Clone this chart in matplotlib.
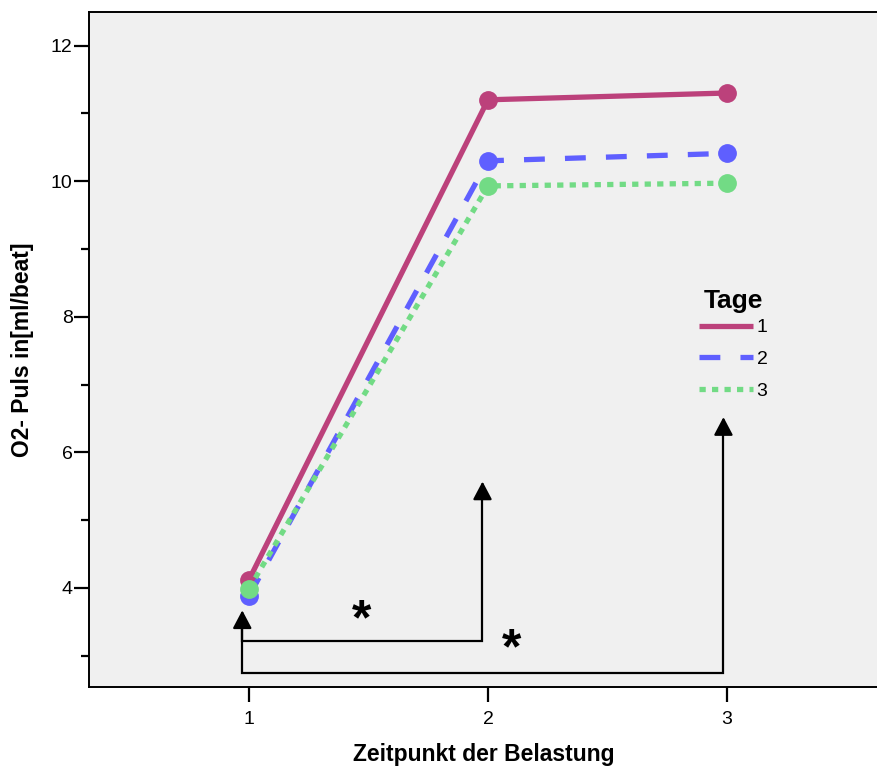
import matplotlib
matplotlib.use("Agg")
import matplotlib.pyplot as plt
from matplotlib.lines import Line2D

plt.rcParams["font.family"] = ["Liberation Sans", "DejaVu Sans"]
plt.rcParams["lines.scale_dashes"] = False

# measurement times and O2 pulse per day
zeitpunkt = [1, 2, 3]
tage = ["1", "2", "3"]
puls_tag1 = [4.12, 11.20, 11.30]
puls_tag2 = [3.88, 10.30, 10.41]
puls_tag3 = [3.99, 9.93, 9.97]

colors = ["#BC417B", "#5F5FFF", "#72DB85"]
dashes = [(None, None), (15.0, 14.5), (4.5, 4.5)]

# significance brackets (x start, x end, y of bar, arrow tip y)
brackets = [(0.972, 1.977, 3.22, 5.57), (0.972, 2.985, 2.74, 6.52)]
arrow_tip_start = 3.67
stars = [(1.47, 3.65), (2.10, 3.22)]

fig = plt.figure(figsize=(8.77, 7.71), dpi=100)
ax = fig.add_axes([0.1018, 0.109, 0.9, 0.875])
ax.set_facecolor("#F0F0F0")

series = [puls_tag1, puls_tag2, puls_tag3]
handles = []
for vals, c, d, lab in zip(series, colors, dashes, tage):
    ln, = ax.plot(zeitpunkt, vals, color=c, lw=3.8, marker="o", ms=12.5,
                  solid_capstyle="butt", dash_capstyle="butt")
    if d[0] is not None:
        ln.set_dashes(d)
    h = Line2D([], [], color=c, lw=3.8, solid_capstyle="butt", dash_capstyle="butt")
    if d[0] is not None:
        h.set_dashes(d)
    handles.append(h)

arrow_style = "-|>,head_length=1.1,head_width=0.58"

# brackets with arrows
for x0, x1, yb, ytip in brackets:
    ax.plot([x0, x0, x1, x1], [arrow_tip_start - 0.2, yb, yb, ytip - 0.2],
            color="black", lw=1.6, solid_joinstyle="miter")
    ax.annotate("", xy=(x1, ytip), xytext=(x1, ytip - 0.25),
                arrowprops=dict(arrowstyle=arrow_style, color="black", lw=1.6,
                                shrinkA=0, shrinkB=0))
ax.annotate("", xy=(brackets[0][0], arrow_tip_start),
            xytext=(brackets[0][0], arrow_tip_start - 0.25),
            arrowprops=dict(arrowstyle=arrow_style, color="black", lw=1.6,
                            shrinkA=0, shrinkB=0))
for sx, sy in stars:
    ax.annotate("*", xy=(sx, sy), xytext=(0, -16), textcoords="offset points",
                fontsize=36, fontweight="bold", ha="center", va="baseline")

ax.set_xlim(0.332, 3.634)
ax.set_ylim(2.54, 12.49)
ax.set_xticks(zeitpunkt)
ax.set_yticks([4, 6, 8, 10, 12])
ax.set_yticks([3, 5, 7, 9, 11], minor=True)
ax.tick_params(axis="both", which="major", length=11, width=1.6, labelsize=14)
ax.tick_params(axis="both", which="minor", length=6, width=1.6)
ax.tick_params(axis="y", which="major", pad=1)
ax.tick_params(axis="x", which="major", pad=6)
for s in ["left", "bottom", "top"]:
    ax.spines[s].set_linewidth(1.4)
ax.spines["right"].set_visible(False)

ax.set_xlabel("Zeitpunkt der Belastung", fontsize=16.5, fontweight="bold", labelpad=11)
ax.set_ylabel("O2- Puls in[ml/beat]", fontsize=16.5, fontweight="bold", labelpad=12)

leg = ax.legend(handles, tage, title="Tage", loc="upper left",
                bbox_to_anchor=(0.7727, 0.5895), frameon=False, fontsize=14,
                handlelength=2.75, handletextpad=0.2, labelspacing=0.72,
                borderpad=0, borderaxespad=0)
leg.get_title().set_fontsize(19)
leg.get_title().set_fontweight("bold")
leg._legend_box.sep = 4

fig.savefig("out.png", dpi=100)
